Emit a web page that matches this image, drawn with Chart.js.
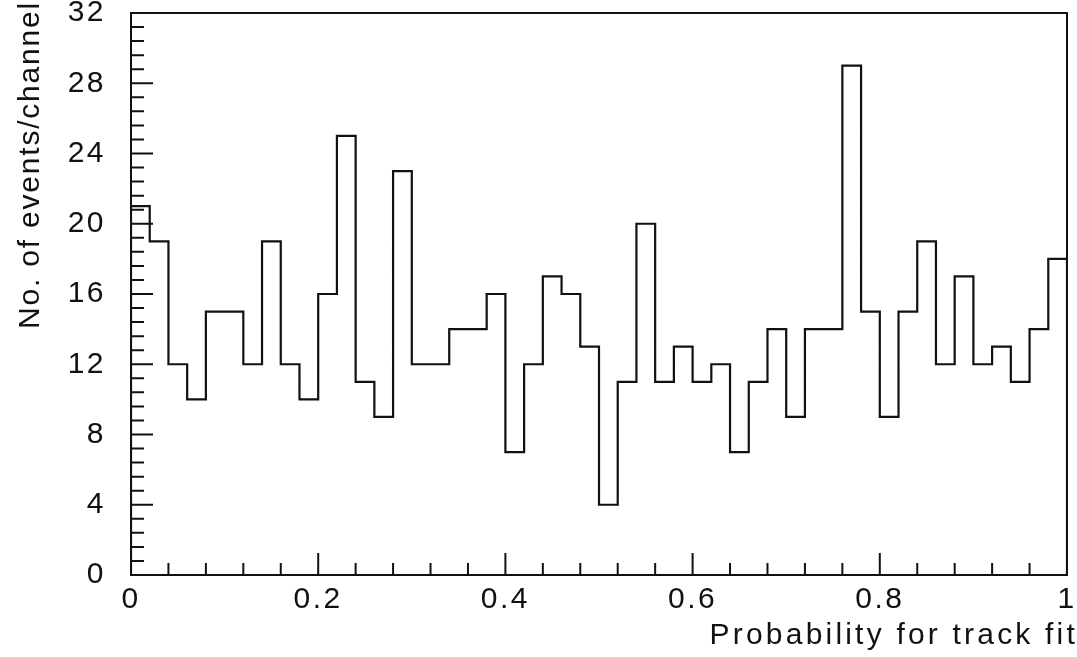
<!DOCTYPE html>
<html lang="en">

<head>
    <meta charset="UTF-8">
    <title>Probability for track fit</title>
    <script src="https://cdn.jsdelivr.net/npm/chart.js"></script>
    <style>
        body {
            margin: 0;
            background: #fff;
        }

        .chart-box {
            width: 1077px;
            height: 657px;
        }
    </style>
</head>

<body>
    <div class="chart-box">
        <canvas id="histChart" width="1077" height="657"></canvas>
    </div>

    <script>
        // events per channel, 50 channels of width 0.02 from 0 to 1
        const binWidth = 0.02;
        const counts = [
            21, 19, 12, 10, 15, 15, 12, 19, 12, 10,
            16, 25, 11, 9, 23, 12, 12, 14, 14, 16,
            7, 12, 17, 16, 13, 4, 11, 20, 11, 13,
            11, 12, 7, 11, 14, 9, 14, 14, 29, 15,
            9, 15, 19, 12, 17, 12, 13, 11, 14, 18
        ];

        const xTickLabels = ['0', '0.2', '0.4', '0.6', '0.8', '1'];
        const yTickLabels = ['0', '4', '8', '12', '16', '20', '24', '28', '32'];

        const xTitle = 'Probability for track fit';
        const yTitle = 'No. of events/channel';

        // histogram outline: stepped line through the bin edges
        const points = [{ x: 0, y: 0 }];
        counts.forEach((c, i) => points.push({ x: i * binWidth, y: c }));
        points.push({ x: counts.length * binWidth, y: 0 });

        const ink = '#111';
        const fontFamily = "'Liberation Sans', Arial, sans-serif";
        const font = { family: fontFamily, size: 30, lineHeight: 1.2 };

        // frame, inward tick marks and the two axis titles
        const frameTicks = {
            id: 'frameTicks',
            beforeDraw(chart) {
                chart.ctx.letterSpacing = '2.5px';
            },
            afterDatasetsDraw(chart) {
                const { ctx, chartArea: a, scales } = chart;
                ctx.save();
                ctx.strokeStyle = ink;
                ctx.lineWidth = 2;
                ctx.strokeRect(a.left, a.top, a.right - a.left, a.bottom - a.top);

                ctx.beginPath();
                for (let i = 0; i <= 40; i++) {
                    const y = scales.y.getPixelForValue(i * 0.8);
                    const len = i % 5 === 0 ? 22 : 13;
                    ctx.moveTo(a.left, y);
                    ctx.lineTo(a.left + len, y);
                }
                for (let i = 0; i <= 25; i++) {
                    const x = scales.x.getPixelForValue(i * 0.04);
                    const len = i % 5 === 0 ? 22 : 12;
                    ctx.moveTo(x, a.bottom);
                    ctx.lineTo(x, a.bottom - len);
                }
                ctx.stroke();
                ctx.restore();
            },
            afterDraw(chart) {
                const { ctx, chartArea: a } = chart;
                ctx.save();
                ctx.fillStyle = ink;
                ctx.font = '30px ' + fontFamily;
                ctx.textBaseline = 'middle';
                ctx.textAlign = 'right';

                ctx.letterSpacing = '3.2px';
                ctx.fillText(xTitle, a.right + 11, 636);

                ctx.letterSpacing = '1.8px';
                ctx.translate(31, 0);
                ctx.rotate(-Math.PI / 2);
                ctx.fillText(yTitle, -1, 0);
                ctx.restore();
            }
        };

        const ctx = document.getElementById('histChart').getContext('2d');
        const histChart = new Chart(ctx, {
            type: 'line',
            data: {
                datasets: [{
                    data: points,
                    stepped: 'before',
                    borderColor: ink,
                    borderWidth: 2.2,
                    pointRadius: 0,
                    fill: false
                }]
            },
            options: {
                responsive: false,
                animation: false,
                devicePixelRatio: 1,
                layout: { padding: { top: 13, right: 10, left: 0, bottom: 0 } },
                plugins: {
                    legend: { display: false },
                    tooltip: { enabled: false }
                },
                scales: {
                    x: {
                        type: 'linear',
                        min: 0,
                        max: 1,
                        grid: { display: false, drawTicks: false },
                        border: { display: false },
                        ticks: {
                            stepSize: 0.2,
                            color: ink,
                            font: font,
                            padding: 7,
                            maxRotation: 0,
                            callback: (v, i) => xTickLabels[i]
                        },
                        afterFit(scale) {
                            scale.height = 82;
                            scale.paddingLeft = 0;
                            scale.paddingRight = 0;
                        }
                    },
                    y: {
                        min: 0,
                        max: 32,
                        grid: { display: false, drawTicks: false },
                        border: { display: false },
                        ticks: {
                            stepSize: 4,
                            color: ink,
                            font: font,
                            padding: 25,
                            callback: (v, i) => yTickLabels[i]
                        },
                        afterFit(scale) {
                            scale.width = 131;
                            scale.paddingTop = 0;
                            scale.paddingBottom = 0;
                        }
                    }
                }
            },
            plugins: [frameTicks]
        });
    </script>
</body>

</html>
